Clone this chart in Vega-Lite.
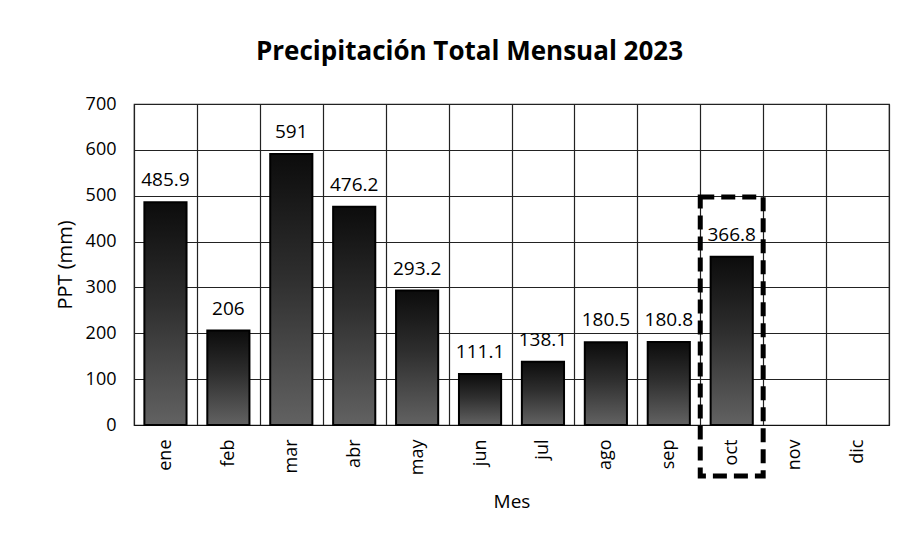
{
  "$schema": "https://vega.github.io/schema/vega-lite/v6.json",
  "width": 755,
  "height": 321,
  "autosize": {"type": "none"},
  "padding": {"left": 134, "top": 104, "right": 16, "bottom": 117},
  "background": "white",
  "title": {
    "text": "Precipitación Total Mensual 2023",
    "font": "Open Sans",
    "fontSize": 26,
    "fontWeight": "bold",
    "color": "black",
    "anchor": "middle",
    "dx": -42,
    "offset": 30
  },
  "config": {
    "view": {"stroke": "#222", "strokeWidth": 1.2},
    "axis": {
      "labelFont": "Open Sans",
      "titleFont": "Open Sans",
      "labelColor": "black",
      "titleColor": "black",
      "domainColor": "#111",
      "gridColor": "#222",
      "gridWidth": 1.2,
      "gridOpacity": 1,
      "titleFontWeight": "normal"
    }
  },
  "data": {
    "values": [
      {"mes": "ene", "ppt": 485.9},
      {"mes": "feb", "ppt": 206},
      {"mes": "mar", "ppt": 591},
      {"mes": "abr", "ppt": 476.2},
      {"mes": "may", "ppt": 293.2},
      {"mes": "jun", "ppt": 111.1},
      {"mes": "jul", "ppt": 138.1},
      {"mes": "ago", "ppt": 180.5},
      {"mes": "sep", "ppt": 180.8},
      {"mes": "oct", "ppt": 366.8},
      {"mes": "nov", "ppt": null},
      {"mes": "dic", "ppt": null}
    ]
  },
  "encoding": {
    "x": {
      "field": "mes",
      "type": "nominal",
      "sort": null,
      "title": "Mes",
      "scale": {
        "domain": ["ene", "feb", "mar", "abr", "may", "jun", "jul", "ago", "sep", "oct", "nov", "dic"],
        "paddingInner": 0,
        "paddingOuter": 0
      },
      "axis": {
        "tickBand": "extent",
        "grid": true,
        "ticks": false,
        "labelAngle": -90,
        "labelFontSize": 18,
        "labelPadding": 14,
        "titleFontSize": 19,
        "titlePadding": 18
      }
    }
  },
  "layer": [
    {
      "mark": {
        "type": "bar",
        "width": {"band": 0.67},
        "stroke": "black",
        "strokeWidth": 2,
        "color": {
          "gradient": "linear",
          "x1": 0, "y1": 0, "x2": 0, "y2": 1,
          "stops": [
            {"offset": 0, "color": "#0c0c0c"},
            {"offset": 0.45, "color": "#2e2e2e"},
            {"offset": 1, "color": "#626262"}
          ]
        }
      },
      "encoding": {
        "y": {
          "field": "ppt",
          "type": "quantitative",
          "title": "PPT (mm)",
          "scale": {"domain": [0, 700], "nice": false},
          "axis": {
            "values": [0, 100, 200, 300, 400, 500, 600, 700],
            "ticks": false,
            "domain": false,
            "labelFontSize": 18,
            "labelPadding": 18,
            "titleFontSize": 20,
            "titlePadding": 10
          }
        }
      }
    },
    {
      "transform": [{"filter": "datum.ppt != null"}],
      "mark": {
        "type": "text",
        "font": "Open Sans",
        "fontSize": 19,
        "color": "black",
        "baseline": "alphabetic",
        "dy": -16
      },
      "encoding": {
        "y": {"field": "ppt", "type": "quantitative"},
        "text": {"field": "ppt", "type": "quantitative"}
      }
    },
    {
      "data": {"values": [{"mes": "oct", "top": 497, "bottom": -111}]},
      "mark": {
        "type": "rect",
        "fill": null,
        "fillOpacity": 0,
        "stroke": "black",
        "strokeWidth": 5,
        "strokeDash": [14, 7],
        "clip": false
      },
      "encoding": {
        "x": {"field": "mes", "type": "nominal", "sort": null},
        "y": {"field": "top", "type": "quantitative"},
        "y2": {"field": "bottom"}
      }
    }
  ]
}
